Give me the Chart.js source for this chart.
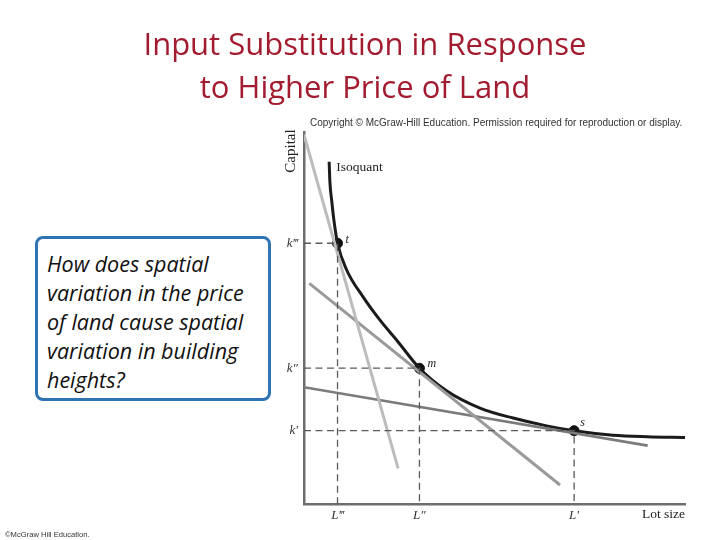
<!DOCTYPE html>
<html>
<head>
<meta charset="utf-8">
<script src="https://cdn.jsdelivr.net/npm/chart.js@4.4.1/dist/chart.umd.min.js"></script>
<style>
  html,body{margin:0;padding:0;background:#fff;width:720px;height:540px;overflow:hidden;}
  #wrap{position:relative;width:720px;height:540px;}
  #c{position:absolute;left:0;top:0;}
  .title{position:absolute;left:0;width:730px;text-align:center;color:#a31b2f;font-family:"Open Sans","Lato",sans-serif;font-size:31px;line-height:43px;top:22px;}
  .box{position:absolute;left:35px;top:236px;width:230px;height:159px;border:3px solid #2f73b3;border-radius:8px;background:#fff;}
  .box p{margin:0;position:absolute;left:9px;top:10px;font-family:"Open Sans","Lato",sans-serif;font-style:italic;font-size:21.5px;line-height:29px;color:#111;white-space:nowrap;}
  .copy{position:absolute;left:310px;top:117px;font-family:"Liberation Sans",Arial,sans-serif;font-size:10px;color:#333;white-space:nowrap;}
  .mh{position:absolute;left:5px;top:530px;font-family:"Liberation Sans",Arial,sans-serif;font-size:7.6px;color:#333;white-space:nowrap;}
</style>
</head>
<body>
<div id="wrap">
  <canvas id="c" width="720" height="540"></canvas>
  <div class="title">Input Substitution in Response<br>to Higher Price of Land</div>
  <div class="copy">Copyright © McGraw-Hill Education. Permission required for reproduction or display.</div>
  <div class="box"><p>How does spatial<br>variation in the price<br>of land cause spatial<br>variation in building<br>heights?</p></div>
  <div class="mh">©McGraw Hill Education.</div>
</div>
<script>
// ---- data (units: 0..10 on both axes) ----
const isoquantX = [0.66, 0.68, 0.73, 0.79, 0.88, 1.12, 1.55, 1.99, 2.43, 3.03, 3.75, 4.62, 5.49, 6.37, 7.09, 8.11, 9.00, 10.0];
const isoquantY = [9.20, 8.66, 8.13, 7.59, 7.01, 6.29, 5.57, 4.95, 4.41, 3.65, 3.04, 2.58, 2.31, 2.10, 1.97, 1.85, 1.81, 1.79];

const pointNames = ['t', 'm', 's'];
const lotSizes   = [0.88, 3.03, 7.09];   // L''', L'', L'
const capitals   = [7.01, 3.65, 1.97];   // k''', k'', k'

const xTickLabels = ['L\u2034', 'L\u2033', 'L\u2032'];
const yTickLabels = ['k\u2034', 'k\u2033', 'k\u2032'];

// budget (price) lines: [x0, x1] / [y0, y1]
const steepLineX = [0.0, 2.47];
const steepLineY = [9.93, 0.96];
const midLineX   = [0.14, 6.72];
const midLineY   = [5.93, 0.51];
const flatLineX  = [0.0, 9.02];
const flatLineY  = [3.14, 1.57];

const xMin = 0, xMax = 10, yMin = 0, yMax = 10;

// ---- build datasets ----
const zip = (xs, ys) => xs.map((x, i) => ({x, y: ys[i]}));
const datasets = [];
pointNames.forEach((n, i) => {
  datasets.push({
    type: 'line', label: 'guide-' + n,
    data: [{x: xMin, y: capitals[i]}, {x: lotSizes[i], y: capitals[i]}, {x: lotSizes[i], y: yMin}],
    borderColor: '#5a5a5a', borderWidth: 1.3, borderDash: [7, 4.5], pointRadius: 0, fill: false, tension: 0
  });
});
datasets.push({type: 'line', label: 'steep', data: zip(steepLineX, steepLineY), borderColor: '#bcbcbc', borderWidth: 3, pointRadius: 0, tension: 0});
datasets.push({type: 'line', label: 'mid', data: zip(midLineX, midLineY), borderColor: '#9a9a9a', borderWidth: 3, pointRadius: 0, tension: 0});
datasets.push({type: 'line', label: 'flat', data: zip(flatLineX, flatLineY), borderColor: '#7b7b7b', borderWidth: 2.6, pointRadius: 0, tension: 0});
datasets.push({type: 'line', label: 'Isoquant', data: zip(isoquantX, isoquantY), borderColor: '#1b1b1b', borderWidth: 3, pointRadius: 0, cubicInterpolationMode: 'monotone'});
datasets.push({type: 'scatter', label: 'points', data: zip(lotSizes, capitals), backgroundColor: '#111', borderColor: '#111', pointRadius: 5, showLine: false});

const serif = '"Liberation Serif","DejaVu Serif",serif';

const labelPlugin = {
  id: 'labels',
  afterDraw(chart) {
    const {ctx, scales: {x, y}, chartArea} = chart;
    ctx.save();
    ctx.fillStyle = '#222';
    // Capital (rotated)
    ctx.save();
    ctx.translate(chartArea.left - 13, chartArea.top + 19);
    ctx.rotate(-Math.PI / 2);
    ctx.font = '15px ' + serif;
    ctx.textAlign = 'center'; ctx.textBaseline = 'middle';
    ctx.fillText('Capital', 0, 0);
    ctx.restore();
    // Isoquant label
    ctx.font = '13.5px ' + serif;
    ctx.textAlign = 'left'; ctx.textBaseline = 'middle';
    ctx.fillText('Isoquant', x.getPixelForValue(isoquantX[0]) + 7, y.getPixelForValue(isoquantY[0]) + 6);
    // Lot size
    ctx.textAlign = 'right';
    ctx.fillText('Lot size', chartArea.right, chartArea.bottom + 10);
    // point names
    ctx.font = 'italic 12px ' + serif;
    ctx.textAlign = 'left';
    const offs = [[8, -3], [8, -4], [6, -8]];
    pointNames.forEach((n, i) => {
      ctx.fillText(n, x.getPixelForValue(lotSizes[i]) + offs[i][0], y.getPixelForValue(capitals[i]) + offs[i][1]);
    });
    ctx.restore();
  }
};

new Chart(document.getElementById('c'), {
  type: 'line',
  data: {datasets},
  options: {
    responsive: false,
    animation: false,
    events: [],
    layout: {padding: {left: 266, right: 35, top: 132, bottom: 6}},
    plugins: {legend: {display: false}, tooltip: {enabled: false}, title: {display: false}},
    scales: {
      x: {
        type: 'linear', min: xMin, max: xMax,
        grid: {display: false, drawTicks: false},
        border: {display: true, color: '#6e6e6e', width: 2.5},
        afterBuildTicks: s => { s.ticks = lotSizes.map(v => ({value: v})); },
        afterFit: s => { s.height = 30; s.paddingLeft = 0; s.paddingRight = 0; },
        ticks: {
          autoSkip: false, maxRotation: 0, padding: 4, color: '#333',
          font: {family: serif, style: 'italic', size: 13},
          callback: (v, i) => xTickLabels[i]
        }
      },
      y: {
        type: 'linear', min: yMin, max: yMax,
        grid: {display: false, drawTicks: false},
        border: {display: true, color: '#6e6e6e', width: 2.5},
        afterBuildTicks: s => { s.ticks = capitals.map(v => ({value: v})); },
        afterFit: s => { s.width = 38; s.paddingTop = 0; s.paddingBottom = 0; },
        ticks: {
          autoSkip: false, padding: 6, color: '#333',
          font: {family: serif, style: 'italic', size: 13},
          callback: (v, i) => yTickLabels[i]
        }
      }
    }
  },
  plugins: [labelPlugin]
});
</script>
</body>
</html>
